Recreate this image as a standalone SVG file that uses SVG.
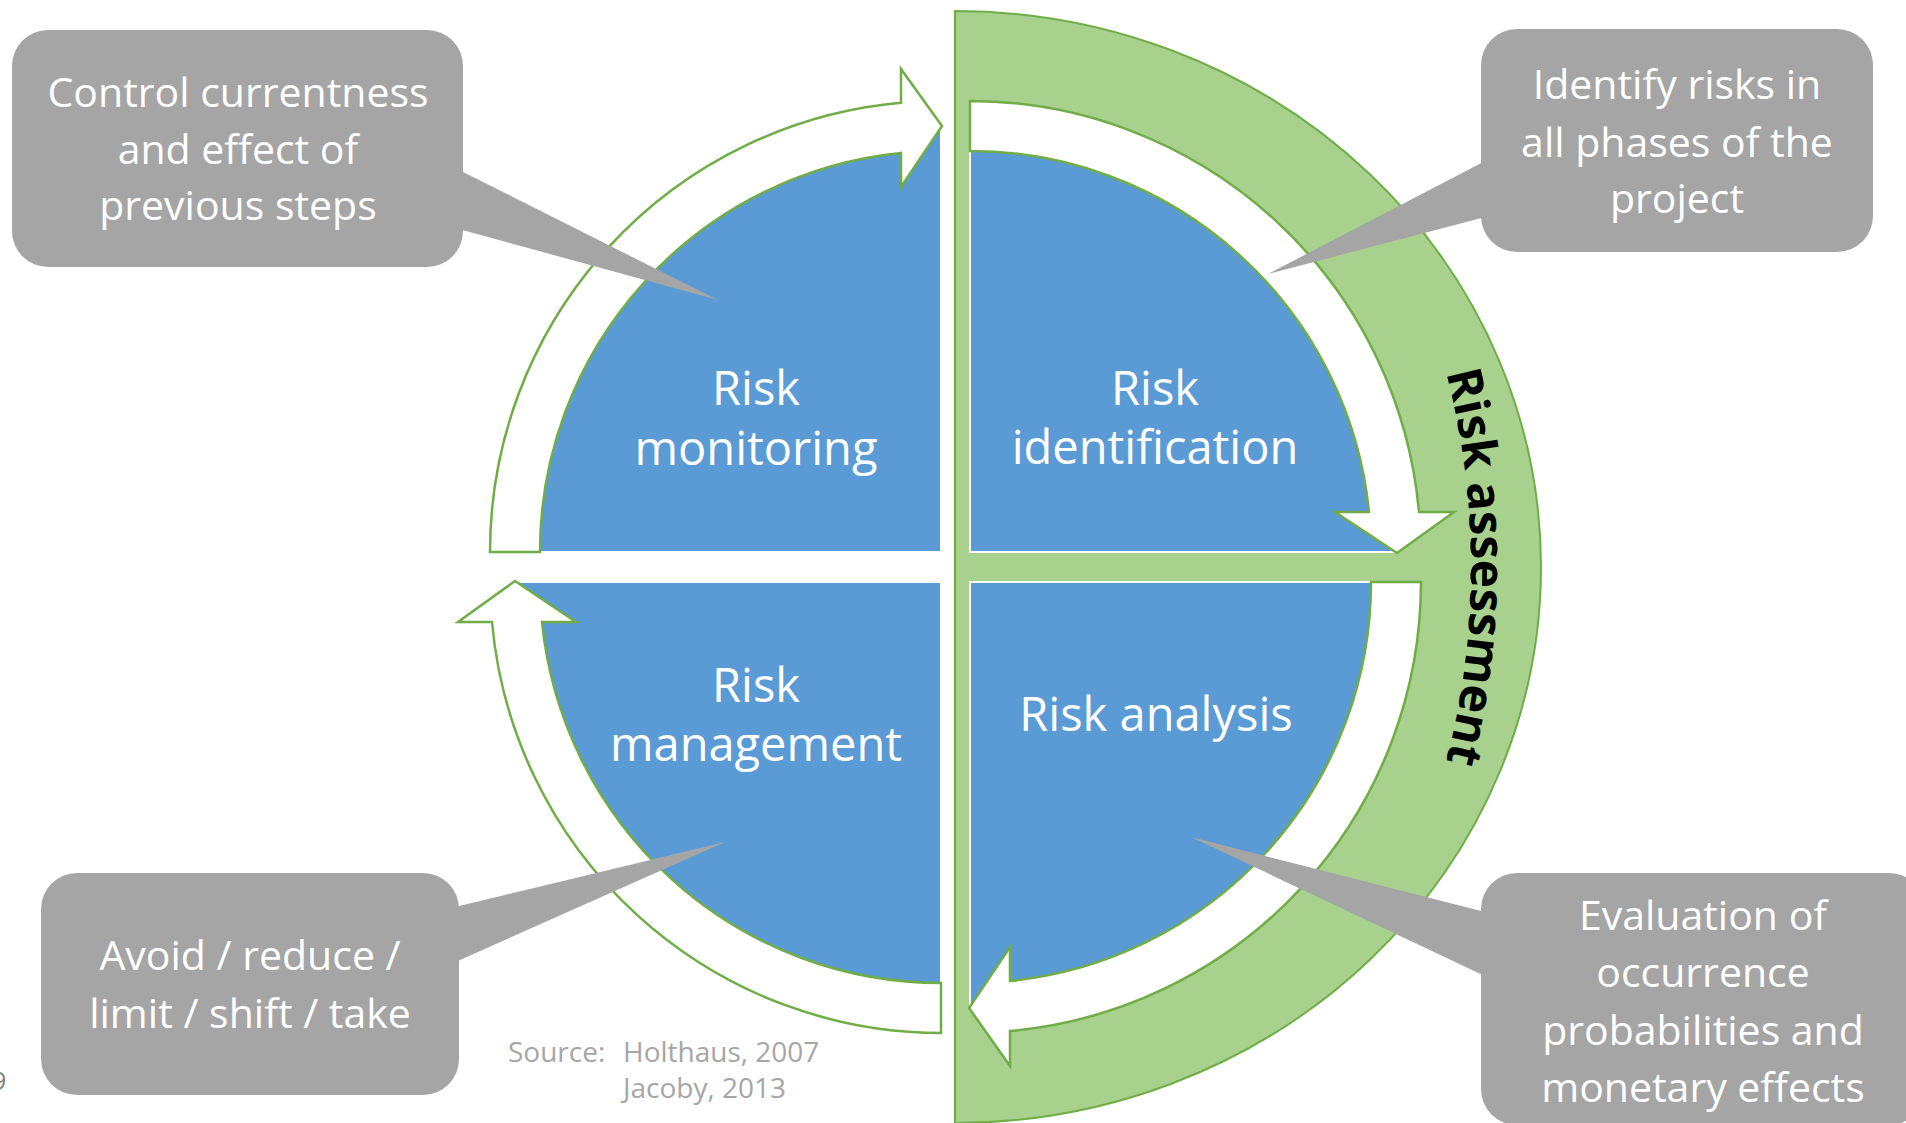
<svg xmlns="http://www.w3.org/2000/svg" width="1906" height="1123" viewBox="0 0 1906 1123">
  <style>
    .pie { fill: #5B9BD5; stroke: #FFFFFF; stroke-width: 2; }
    .arrow { fill: #FFFFFF; stroke: #70AD47; stroke-width: 2.5; stroke-linejoin: miter; }
    .callout { fill: #A5A5A5; }
    .lbl { font-family: "Open Sans", "Noto Sans", sans-serif; font-size: 47px; fill: #FFFFFF; text-anchor: middle; }
    .ctext { font-family: "Open Sans", "Noto Sans", sans-serif; font-size: 41px; fill: #FFFFFF; text-anchor: middle; }
    .src { font-family: "Open Sans", "Noto Sans", sans-serif; font-size: 28px; fill: #A6A6A6; }
    .band { font-family: "Open Sans", "Noto Sans", sans-serif; font-size: 48px; font-weight: bold; fill: #000000; }
  </style>
  <defs>
    <path id="bandPath" d="M 1290.8 72 A 770 770 0 0 1 1290.8 1062"/>
  </defs>
  <rect width="1906" height="1123" fill="#FFFFFF"/>

  <g id="risk-assessment">
    <path d="M 955 11 A 586 556 0 0 1 955 1123 Z" fill="#A9D18E" stroke="#70AD47" stroke-width="2"/>
    <text class="band"><textPath href="#bandPath" startOffset="50%" text-anchor="middle">Risk assessment</textPath></text>
  </g>

  <g id="risk-monitoring">
    <path class="pie" d="M 941 552 L 941 124 A 428 428 0 0 0 513 552 Z"/>
  </g>
  <g id="risk-identification">
    <path class="pie" d="M 970 552 L 970 124 A 428 428 0 0 1 1398 552 Z"/>
  </g>
  <g id="risk-management">
    <path class="pie" d="M 941 582 L 513 582 A 428 428 0 0 0 941 1010 Z"/>
  </g>
  <g id="risk-analysis">
    <path class="pie" d="M 970 582 L 1398 582 A 428 428 0 0 1 970 1010 Z"/>
  </g>

  <g id="connectors">
    <path class="arrow" d="M 490 552 A 451 451 0 0 1 901 102.8 L 901 69 L 942 126 L 901 187 L 901 153 A 401 401 0 0 0 540 552 Z"/>
    <path class="arrow" d="M 970 101 A 451 451 0 0 1 1419 512 L 1454 512 L 1397 553 L 1335 512 L 1369 512 A 401 401 0 0 0 970 151 Z"/>
    <path class="arrow" d="M 1421 582 A 451 451 0 0 1 1010 1031 L 1010 1066 L 969 1008 L 1010 947 L 1010 981 A 401 401 0 0 0 1371 582 Z"/>
    <path class="arrow" d="M 941 1033 A 451 451 0 0 1 492 622 L 458 622 L 515 581 L 576 622 L 542 622 A 401 401 0 0 0 941 983 Z"/>
  </g>

  <g id="labels">
    <text class="lbl" x="756" y="405">Risk</text>
    <text class="lbl" x="756" y="465">monitoring</text>
    <text class="lbl" x="1155" y="405">Risk</text>
    <text class="lbl" x="1155" y="464">identification</text>
    <text class="lbl" x="756" y="702">Risk</text>
    <text class="lbl" x="756" y="761">management</text>
    <text class="lbl" x="1156" y="731">Risk analysis</text>
  </g>

  <g id="callout-monitoring">
    <rect class="callout" x="12" y="30" width="451" height="237" rx="36"/>
    <polygon class="callout" points="455,168 718,300 455,228"/>
    <text class="ctext" x="238" y="107">Control currentness</text>
    <text class="ctext" x="238" y="164">and effect of</text>
    <text class="ctext" x="238" y="220">previous steps</text>
  </g>
  <g id="callout-identification">
    <rect class="callout" x="1481" y="29" width="392" height="223" rx="36"/>
    <polygon class="callout" points="1489,159 1268,274 1489,216"/>
    <text class="ctext" x="1677" y="99">Identify risks in</text>
    <text class="ctext" x="1677" y="157">all phases of the</text>
    <text class="ctext" x="1677" y="213">project</text>
  </g>
  <g id="callout-management">
    <rect class="callout" x="41" y="873" width="418" height="222" rx="36"/>
    <polygon class="callout" points="451,908 725,842 451,964"/>
    <text class="ctext" x="250" y="970">Avoid / reduce /</text>
    <text class="ctext" x="250" y="1028">limit / shift / take</text>
  </g>
  <g id="callout-analysis">
    <rect class="callout" x="1481" y="873" width="444" height="252" rx="36"/>
    <polygon class="callout" points="1489,913 1191,837 1489,978"/>
    <text class="ctext" x="1703" y="930">Evaluation of</text>
    <text class="ctext" x="1703" y="987">occurrence</text>
    <text class="ctext" x="1703" y="1045">probabilities and</text>
    <text class="ctext" x="1703" y="1102">monetary effects</text>
  </g>

  <g id="source">
    <text class="src" x="508" y="1062">Source:</text>
    <text class="src" x="623" y="1062">Holthaus, 2007</text>
    <text class="src" x="623" y="1098">Jacoby, 2013</text>
  </g>
  <text x="-8" y="1090" font-family="Open Sans, sans-serif" font-size="25" fill="#808080">9</text>
</svg>
